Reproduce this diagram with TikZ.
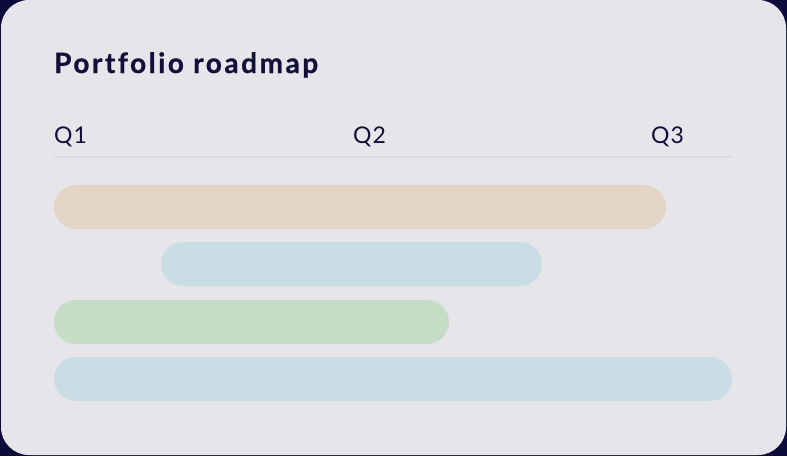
\documentclass[tikz,border=0pt]{standalone}
\usepackage{fontspec}
\setmainfont{Lato}
\newfontfamily\titlefont{Lato}[LetterSpace=9,Ligatures=NoCommon,BoldFeatures={FakeBold=0.7}]
\newfontfamily\qfont{Lato}[LetterSpace=4]
\definecolor{navy}{HTML}{0E0B3B}
\definecolor{ink}{HTML}{120F3A}
\definecolor{card}{HTML}{E6E5EA}
\definecolor{rule}{HTML}{D9DCE5}
\definecolor{tan}{HTML}{E3D5C5}
\definecolor{sky}{HTML}{CADDE4}
\definecolor{sage}{HTML}{C5DCC6}
\begin{document}
\begin{tikzpicture}[x=1pt,y=-1pt,
  bar/.style={rounded corners=22pt},
  qlabel/.style={anchor=base west,inner sep=0pt,text=ink,font=\qfont\fontsize{23}{26}\selectfont}]
\fill[navy] (0,0) rectangle (787,456);
\useasboundingbox (0,0) rectangle (787,456);
\fill[card,rounded corners=28pt] (1,0) rectangle (786,455);
\node[anchor=base west,inner sep=0pt,text=ink,font=\titlefont\fontsize{28}{30}\selectfont\bfseries] (title) at (54,73) {Portfolio roadmap};
\node[qlabel] (q1) at (54,143) {Q1};
\node[qlabel] (q2) at (353,143) {Q2};
\node[qlabel] (q3) at (651,143) {Q3};
\draw[rule,line width=1.2pt] (54,157) coordinate (rs) -- (732,157) coordinate (re);
\fill[tan,bar] (54,185) rectangle (666,229);
\fill[sky,bar] (161,242) rectangle (542,286);
\fill[sage,bar] (54,300) rectangle (449,344);
\fill[sky,bar] (54,357) rectangle (732,401);
\end{tikzpicture}
\end{document}
